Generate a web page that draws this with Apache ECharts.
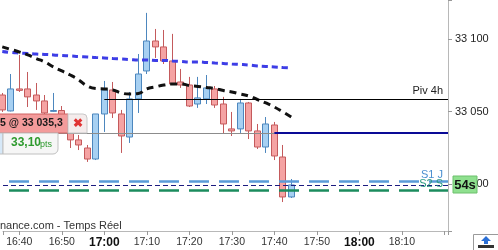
<!DOCTYPE html>
<html><head><meta charset="utf-8">
<script src="https://cdn.jsdelivr.net/npm/echarts@6/dist/echarts.min.js"></script>
<style>html,body{margin:0;padding:0;background:#fff}#c{width:498px;height:250px}</style>
</head><body><div id="c"></div>
<script>
// 2-minute candles
const times = ['16:36','16:38','16:40','16:42','16:44','16:46','16:48','16:50','16:52','16:54','16:56','16:58',
  '17:00','17:02','17:04','17:06','17:08','17:10','17:12','17:14','17:16','17:18','17:20','17:22','17:24','17:26',
  '17:28','17:30','17:32','17:34','17:36','17:38','17:40','17:42','17:44'];
const opens  = [33061.5,33050.5,33065.7,33065.7,33061.5,33057.4,33050.2,33050.8,33035.3,33030.5,33024.9,33017.3,
  33048.4,33065.0,33048.4,33032.5,33058.8,33078.1,33098.8,33094.7,33085.0,33070.5,33068.4,33055.3,33058.8,33065.7,
  33055.3,33038.1,33038.1,33056.0,33036.7,33025.6,33040.8,33018.7,32991.1];
const closes = [33051.2,33065.7,33064.7,33060.2,33057.4,33049.1,33050.8,33046.3,33030.5,33027.0,33017.3,33048.4,
  33065.0,33049.1,33033.2,33058.8,33076.0,33098.8,33094.7,33085.0,33069.1,33068.4,33053.9,33059.5,33066.4,33054.6,
  33041.5,33036.7,33056.0,33036.7,33025.6,33041.5,33019.4,32991.1,32999.4];
const lows   = [33049.8,33050.2,33063.6,33053.2,33051.2,33046.3,33049.8,33044.3,33024.9,33023.5,33015.3,33016.6,
  33036.0,33045.6,33021.5,33028.4,33049.1,33076.0,33087.1,33082.9,33068.4,33066.4,33053.2,33052.6,33055.3,33052.6,
  33034.6,33033.2,33035.3,33031.1,33024.2,33021.5,33016.6,32987.6,32990.4];
const highs  = [33062.9,33076.0,33089.2,33077.4,33069.8,33061.5,33062.9,33053.9,33040.8,33033.9,33027.0,33048.4,
  33071.2,33070.5,33051.2,33063.6,33089.8,33118.2,33107.1,33106.4,33103.7,33079.5,33074.0,33074.0,33075.3,33067.7,
  33060.2,33049.8,33058.8,33056.7,33041.5,33046.3,33042.9,33027.0,33003.5];
// moving averages
const maBlack = [33094.7,33093.0,33091.2,33089.2,33086.7,33084.3,33080.9,33078.1,33075.3,33071.9,33067.7,33066.0,
  33065.7,33065.0,33062.9,33062.2,33062.6,33065.7,33067.1,33068.4,33069.1,33069.1,33068.1,33067.4,33066.7,33066.0,
  33064.6,33063.6,33062.2,33060.8,33058.4,33056.0,33053.2,33049.8,33046.3];
const maBlue = [33091.6,33090.9,33090.5,33090.2,33089.8,33089.5,33089.2,33088.8,33088.5,33088.1,33087.8,33087.4,
  33087.1,33086.7,33086.4,33086.0,33085.7,33085.7,33085.4,33085.4,33085.0,33084.7,33084.3,33084.3,33084.0,33083.6,
  33083.3,33082.9,33082.6,33082.2,33081.6,33081.2,33080.9,33080.5,33080.2];
// levels
const pivot4h = 33058.8, pivotFrom = '17:00';
const orderLevel = 33035.3, orderSwitch = '17:40';
const s1J = 33001.7, s2S = 32995.4, lastPrice = 32999.4;
// axes
const xStart = '16:36.17', xEnd = '18:20.84';
const yMin = 32967.6, yMax = 33127.1;

function toMin(s){const p=s.split(':');return (+p[0])*60+parseFloat(p[1]);}
const X0 = toMin(xStart), X1 = toMin(xEnd);
const candleData = times.map((t,i)=>[toMin(t),opens[i],closes[i],lows[i],highs[i]]);
const blackData = times.map((t,i)=>[toMin(t),maBlack[i]]);
const blueData = times.map((t,i)=>[toMin(t),maBlue[i]]);
const FONT = "'Liberation Sans', Arial, sans-serif";

function fmtTime(v){
  const m = Math.round(v); if (Math.abs(v-m)>0.01 || m>=1100) return '';
  const h = Math.floor(m/60), mm = m%60;
  const s = h+':'+(mm<10?'0':'')+mm;
  return mm===0 ? '{b|'+s+'}' : s;
}
function fmtPrice(v){
  const r = Math.round(v); if (Math.abs(v-r)>0.01 || r%50!==0) return '';
  return String(r).replace(/\B(?=(\d{3})+(?!\d))/g,' ');
}

const chart = echarts.init(document.getElementById('c'), null, {renderer:'canvas'});
chart.setOption({
  animation:false,
  backgroundColor:'#fff',
  grid:{left:0,right:50,top:0,bottom:19,containLabel:false},
  xAxis:{type:'value',min:X0,max:X1,minInterval:10,maxInterval:10,splitLine:{show:false},
    axisLine:{show:true,lineStyle:{color:'#b8b8b8'}},
    axisTick:{show:true,length:4,lineStyle:{color:'#999'}},
    axisLabel:{margin:6,color:'#333',fontSize:10.5,fontFamily:FONT,hideOverlap:false,
      formatter:fmtTime,rich:{b:{fontWeight:'bold',fontSize:12,color:'#111',fontFamily:FONT}}}},
  yAxis:{type:'value',position:'right',min:yMin,max:yMax,minInterval:50,maxInterval:50,splitLine:{show:false},
    axisLine:{show:true,lineStyle:{color:'#b8b8b8'}},
    axisTick:{show:true,length:4,lineStyle:{color:'#999'}},
    axisLabel:{margin:7,color:'#222',fontSize:11,fontFamily:FONT,formatter:fmtPrice,
      hideOverlap:false,showMinLabel:true,showMaxLabel:true}},
  series:[
    {type:'line',data:[],silent:true,z:1,
      markLine:{silent:true,symbol:'none',animation:false,data:[
        [{coord:[X0,orderLevel],lineStyle:{color:'#8c8c8c',width:1,type:'solid'}},{coord:[toMin(orderSwitch),orderLevel]}],
      ],label:{show:false}}},
    {type:'candlestick',data:candleData,encode:{x:0,y:[1,2,3,4]},barWidth:6.5,z:2,
      itemStyle:{color:'#a7d0f2',color0:'#f5a3a3',borderColor:'#4d87be',borderColor0:'#c45a5c',borderWidth:1}},
    {type:'line',data:[],silent:true,z:3,
      markLine:{silent:true,symbol:'none',animation:false,data:[
        [{coord:[toMin(pivotFrom),pivot4h],lineStyle:{color:'#000',width:1.2,type:'solid'},
          label:{show:true,position:'insideEndTop',formatter:'Piv 4h',color:'#222',fontSize:11,fontFamily:FONT,distance:[5,2]}},
         {coord:[X1,pivot4h]}],
        [{coord:[toMin(orderSwitch),orderLevel],lineStyle:{color:'#0a0a96',width:2,type:'solid'},label:{show:false}},{coord:[X1,orderLevel]}],
        [{coord:[X0,s1J],lineStyle:{color:'#5a9bd8',width:2.5,type:[20,10],dashOffset:-6},
          label:{show:true,position:'insideEndTop',formatter:'S1 J',color:'#4a8fd0',fontSize:11,fontFamily:FONT,distance:[5,1]}},
         {coord:[X1,s1J]}],
        [{coord:[X0,lastPrice],lineStyle:{color:'#1c1c80',width:1,type:[5,3]},label:{show:false}},{coord:[X1,lastPrice]}],
        [{coord:[X0,s2S],lineStyle:{color:'#1b8c5e',width:2.5,type:[20,10],dashOffset:-6},
          label:{show:true,position:'insideEndTop',formatter:'S2 S',color:'#2a9a80',fontSize:11,fontFamily:FONT,distance:[5,1]}},
         {coord:[X1,s2S]}]
      ]}},
    {type:'line',data:blueData,showSymbol:false,smooth:true,z:4,silent:true,
      lineStyle:{color:'#3d3de6',width:3,type:[6,4]}},
    {type:'line',data:blackData,showSymbol:false,smooth:true,z:4,silent:true,
      lineStyle:{color:'#111',width:3,type:[7,5]}}
  ],
  graphic:[
    {type:'text',left:0,top:220,z:10,style:{text:'nance.com - Temps Réel',fill:'#333',font:'11px '+FONT}},
    // order box
    {type:'rect',z:20,shape:{x:-6,y:114,width:74,height:19},style:{fill:'#f39b9b',stroke:'#cf6262',lineWidth:1}},
    {type:'text',z:21,x:0,y:118,style:{text:'5 @ 33 035,3',fill:'#1a1a1a',font:'bold 10.5px '+FONT}},
    {type:'rect',z:20,shape:{x:68,y:114,width:19,height:19,r:[0,4,0,0]},style:{fill:'#f4ecec',stroke:'#c8c8c8',lineWidth:1}},
    {type:'text',z:21,x:77.5,y:123.5,style:{text:'✖',fill:'#e03434',font:'bold 12px '+FONT,align:'center',verticalAlign:'middle'}},
    {type:'rect',z:20,shape:{x:-8,y:133,width:11,height:21},style:{fill:'#d6e8f8',stroke:'#c0c0c0',lineWidth:1}},
    {type:'rect',z:20,shape:{x:3,y:133,width:55,height:21,r:[0,0,5,0]},style:{fill:'#f6f6f6',stroke:'#c0c0c0',lineWidth:1}},
    {type:'text',z:21,x:11,y:137,style:{text:'33,10',fill:'#2e9a2e',font:'bold 12px '+FONT}},
    {type:'text',z:21,x:40,y:140,style:{text:'pts',fill:'#2e9a2e',font:'9px '+FONT}},
    // countdown box
    {type:'rect',z:20,shape:{x:453,y:176,width:24,height:17},style:{fill:'#8fe08f',stroke:'#6cc06c',lineWidth:1}},
    {type:'text',z:21,x:465,y:185,style:{text:'54s',fill:'#111',font:'bold 13px '+FONT,align:'center',verticalAlign:'middle'}},
    // corner icon
    {type:'rect',z:20,shape:{x:473.5,y:234.5,width:26,height:17},style:{fill:'#fff',stroke:'#9a9a9a',lineWidth:1}},
    {type:'polygon',z:21,shape:{points:[[486,236],[481,241],[484,241],[484,244],[488,244],[488,241],[491,241]]},style:{fill:'#2a6fd6'}},
    {type:'rect',z:21,shape:{x:478,y:245,width:16,height:3},style:{fill:'#333'}}
  ]
});
</script></body></html>
